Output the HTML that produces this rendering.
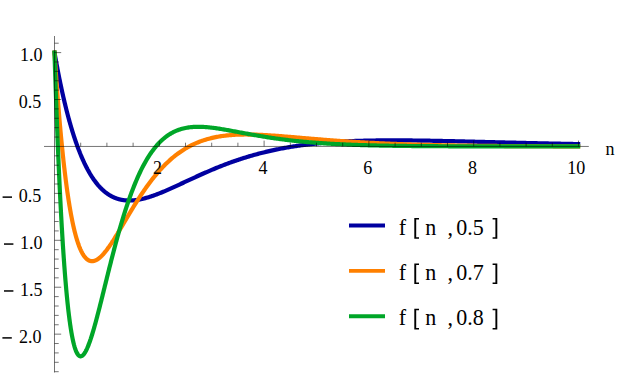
<!DOCTYPE html>
<html><head><meta charset="utf-8"><title>plot</title>
<style>
html,body{margin:0;padding:0;background:#fff;}
body{width:623px;height:376px;overflow:hidden;}
svg{display:block;}
text{font-family:"Liberation Serif",serif;font-size:18px;fill:#000;}
text.lg{font-size:22px;}
</style></head><body>
<svg width="623" height="376" viewBox="0 0 623 376">
<rect width="623" height="376" fill="#fff"/>
<g fill="none" stroke-width="4.2" stroke-linejoin="round" stroke-linecap="square">
<path stroke="#0000a0" d="M54.50,52.60 L54.70,53.72 L54.89,54.84 L55.09,55.95 L55.29,57.05 L55.48,58.15 L55.68,59.24 L55.88,60.33 L56.08,61.41 L56.27,62.48 L56.47,63.54 L56.67,64.60 L56.86,65.66 L57.06,66.70 L57.26,67.74 L57.45,68.78 L57.65,69.81 L57.85,70.83 L58.05,71.84 L58.24,72.85 L58.44,73.86 L58.64,74.86 L58.83,75.85 L59.03,76.84 L59.23,77.82 L59.42,78.79 L59.62,79.76 L59.82,80.72 L60.02,81.68 L60.21,82.63 L60.41,83.58 L60.61,84.52 L60.80,85.45 L61.00,86.38 L61.20,87.30 L61.39,88.22 L61.59,89.13 L61.79,90.04 L61.99,90.94 L62.18,91.83 L62.38,92.72 L62.58,93.61 L62.77,94.49 L62.97,95.36 L63.17,96.23 L63.36,97.09 L63.56,97.95 L63.76,98.80 L63.96,99.65 L64.15,100.49 L64.35,101.32 L64.55,102.16 L64.74,102.98 L64.94,103.80 L65.14,104.62 L65.33,105.43 L65.53,106.23 L65.73,107.03 L65.93,107.83 L66.12,108.62 L66.32,109.40 L66.52,110.19 L66.71,110.96 L66.91,111.73 L67.11,112.50 L67.30,113.26 L67.50,114.01 L67.70,114.76 L67.90,115.51 L68.09,116.25 L68.29,116.99 L68.49,117.72 L68.68,118.45 L68.88,119.17 L69.08,119.89 L69.27,120.60 L69.47,121.31 L69.67,122.02 L69.87,122.71 L70.06,123.41 L70.26,124.10 L70.46,124.79 L70.65,125.47 L70.85,126.14 L71.05,126.82 L71.24,127.48 L71.44,128.15 L71.64,128.81 L71.84,129.46 L72.03,130.11 L72.23,130.76 L72.43,131.40 L72.62,132.04 L72.82,132.67 L73.02,133.30 L73.21,133.93 L73.41,134.55 L73.61,135.16 L73.81,135.78 L74.00,136.39 L74.20,136.99 L74.40,137.59 L74.59,138.19 L74.79,138.78 L74.99,139.37 L75.18,139.95 L75.38,140.53 L75.58,141.11 L75.78,141.68 L75.97,142.25 L76.17,142.81 L76.37,143.37 L76.56,143.93 L76.76,144.48 L76.96,145.03 L77.15,145.57 L77.35,146.11 L77.55,146.65 L77.75,147.18 L77.94,147.71 L78.14,148.24 L78.34,148.76 L78.53,149.28 L78.73,149.79 L78.93,150.31 L79.12,150.81 L79.32,151.32 L79.52,151.82 L79.72,152.31 L79.91,152.81 L80.11,153.30 L80.31,153.78 L80.50,154.27 L80.70,154.75 L80.90,155.22 L81.09,155.69 L81.29,156.16 L81.49,156.63 L81.68,157.09 L81.88,157.55 L82.08,158.00 L82.28,158.45 L82.47,158.90 L82.67,159.35 L82.87,159.79 L83.06,160.23 L83.26,160.66 L83.46,161.09 L83.65,161.52 L83.85,161.95 L84.05,162.37 L84.25,162.79 L84.44,163.21 L84.64,163.62 L84.84,164.03 L85.03,164.43 L85.23,164.84 L85.43,165.24 L85.62,165.63 L85.82,166.03 L86.02,166.42 L86.22,166.81 L86.41,167.19 L86.61,167.57 L86.81,167.95 L87.00,168.33 L87.20,168.70 L87.40,169.07 L87.59,169.44 L87.79,169.80 L87.99,170.16 L88.19,170.52 L88.38,170.88 L88.58,171.23 L88.78,171.58 L88.97,171.93 L89.17,172.27 L89.37,172.61 L89.56,172.95 L89.76,173.29 L89.96,173.62 L90.16,173.95 L90.35,174.28 L90.55,174.60 L90.75,174.93 L90.94,175.24 L91.14,175.56 L91.34,175.88 L91.53,176.19 L91.73,176.50 L91.93,176.80 L92.13,177.11 L92.32,177.41 L92.52,177.71 L92.72,178.00 L92.91,178.29 L93.11,178.59 L93.31,178.87 L93.50,179.16 L93.70,179.44 L93.90,179.72 L94.10,180.00 L94.29,180.28 L94.49,180.55 L94.69,180.82 L94.88,181.09 L95.08,181.36 L95.28,181.62 L95.47,181.88 L95.67,182.14 L95.87,182.40 L96.07,182.65 L96.26,182.90 L96.46,183.15 L96.66,183.40 L96.85,183.65 L97.05,183.89 L97.25,184.13 L97.44,184.37 L97.64,184.60 L97.84,184.84 L98.04,185.07 L98.23,185.30 L98.43,185.53 L98.63,185.75 L98.82,185.97 L99.02,186.19 L99.22,186.41 L99.41,186.63 L99.61,186.84 L99.81,187.06 L100.01,187.27 L100.20,187.47 L100.40,187.68 L100.60,187.88 L100.79,188.08 L100.99,188.28 L101.19,188.48 L101.38,188.68 L101.58,188.87 L101.78,189.06 L101.98,189.25 L102.17,189.44 L102.37,189.63 L102.57,189.81 L102.76,189.99 L102.96,190.17 L103.16,190.35 L103.35,190.52 L103.55,190.70 L103.75,190.87 L103.95,191.04 L104.14,191.21 L104.34,191.38 L104.54,191.54 L104.73,191.70 L104.93,191.86 L105.13,192.02 L105.32,192.18 L105.52,192.34 L105.72,192.49 L105.92,192.64 L106.11,192.79 L106.31,192.94 L106.51,193.09 L106.70,193.23 L106.90,193.38 L107.10,193.52 L107.29,193.66 L107.49,193.79 L107.69,193.93 L107.88,194.07 L108.08,194.20 L108.28,194.33 L108.48,194.46 L108.67,194.59 L108.87,194.71 L109.07,194.84 L109.26,194.96 L109.46,195.08 L109.66,195.20 L109.85,195.32 L110.05,195.44 L110.25,195.55 L110.45,195.67 L110.64,195.78 L110.84,195.89 L111.04,196.00 L111.23,196.11 L111.43,196.21 L111.63,196.32 L111.82,196.42 L112.02,196.52 L112.22,196.62 L112.42,196.72 L112.61,196.82 L112.81,196.91 L113.01,197.01 L113.20,197.10 L113.40,197.19 L113.60,197.28 L113.79,197.37 L113.99,197.46 L114.19,197.54 L114.39,197.62 L114.58,197.71 L114.78,197.79 L114.98,197.87 L115.17,197.95 L115.37,198.03 L115.57,198.10 L115.76,198.18 L115.96,198.25 L116.16,198.32 L116.36,198.39 L116.55,198.46 L116.75,198.53 L116.95,198.60 L117.14,198.66 L117.34,198.73 L117.54,198.79 L117.73,198.85 L117.93,198.91 L118.13,198.97 L118.33,199.03 L118.52,199.09 L118.72,199.14 L118.92,199.20 L119.11,199.25 L119.31,199.30 L119.51,199.35 L119.70,199.40 L119.90,199.45 L120.10,199.50 L120.30,199.54 L120.49,199.59 L120.69,199.63 L120.89,199.67 L121.08,199.72 L121.28,199.76 L121.48,199.80 L121.67,199.83 L121.87,199.87 L122.07,199.91 L122.27,199.94 L122.46,199.98 L122.66,200.01 L122.86,200.04 L123.05,200.07 L123.25,200.10 L123.45,200.13 L123.64,200.16 L123.84,200.18 L124.04,200.21 L124.24,200.23 L124.43,200.26 L124.63,200.28 L124.83,200.30 L125.02,200.32 L125.22,200.34 L125.42,200.36 L125.61,200.37 L125.81,200.39 L126.01,200.41 L126.21,200.42 L126.40,200.43 L126.60,200.45 L126.80,200.46 L126.99,200.47 L127.19,200.48 L127.39,200.49 L127.58,200.50 L127.78,200.50 L127.98,200.51 L128.18,200.51 L128.37,200.52 L128.57,200.52 L128.77,200.52 L128.96,200.53 L129.16,200.53 L129.36,200.53 L129.55,200.53 L129.75,200.52 L129.95,200.52 L130.15,200.52 L130.34,200.51 L130.54,200.51 L130.74,200.50 L130.93,200.50 L131.13,200.49 L131.33,200.48 L131.52,200.47 L131.72,200.46 L131.92,200.45 L132.12,200.44 L132.31,200.43 L132.51,200.41 L132.71,200.40 L132.90,200.38 L133.10,200.37 L134.22,200.27 L135.33,200.14 L136.45,200.00 L137.56,199.83 L138.68,199.64 L139.79,199.43 L140.91,199.20 L142.02,198.96 L143.14,198.70 L144.25,198.42 L145.37,198.12 L146.48,197.81 L147.60,197.49 L148.72,197.15 L149.83,196.80 L150.95,196.44 L152.06,196.06 L153.18,195.67 L154.29,195.28 L155.41,194.87 L156.52,194.45 L157.64,194.03 L158.75,193.59 L159.87,193.15 L160.98,192.70 L162.10,192.24 L163.22,191.78 L164.33,191.31 L165.45,190.83 L166.56,190.35 L167.68,189.86 L168.79,189.37 L169.91,188.88 L171.02,188.38 L172.14,187.88 L173.25,187.37 L174.37,186.86 L175.48,186.35 L176.60,185.84 L177.71,185.33 L178.83,184.81 L179.95,184.29 L181.06,183.77 L182.18,183.25 L183.29,182.73 L184.41,182.21 L185.52,181.69 L186.64,181.17 L187.75,180.65 L188.87,180.14 L189.98,179.62 L191.10,179.10 L192.21,178.58 L193.33,178.07 L194.45,177.56 L195.56,177.04 L196.68,176.53 L197.79,176.03 L198.91,175.52 L200.02,175.02 L201.14,174.52 L202.25,174.02 L203.37,173.52 L204.48,173.03 L205.60,172.54 L206.71,172.05 L207.83,171.57 L208.95,171.09 L210.06,170.61 L211.18,170.13 L212.29,169.66 L213.41,169.20 L214.52,168.73 L215.64,168.27 L216.75,167.82 L217.87,167.36 L218.98,166.91 L220.10,166.47 L221.21,166.03 L222.33,165.59 L223.45,165.16 L224.56,164.73 L225.68,164.31 L226.79,163.88 L227.91,163.47 L229.02,163.06 L230.14,162.65 L231.25,162.24 L232.37,161.85 L233.48,161.45 L234.60,161.06 L235.71,160.67 L236.83,160.29 L237.94,159.91 L239.06,159.54 L240.18,159.17 L241.29,158.81 L242.41,158.45 L243.52,158.09 L244.64,157.74 L245.75,157.40 L246.87,157.05 L247.98,156.72 L249.10,156.38 L250.21,156.05 L251.33,155.73 L252.44,155.41 L253.56,155.09 L254.68,154.78 L255.79,154.47 L256.91,154.17 L258.02,153.87 L259.14,153.58 L260.25,153.29 L261.37,153.00 L262.48,152.72 L263.60,152.44 L264.71,152.17 L265.83,151.90 L266.94,151.63 L268.06,151.37 L269.18,151.11 L270.29,150.86 L271.41,150.61 L272.52,150.36 L273.64,150.12 L274.75,149.89 L275.87,149.65 L276.98,149.42 L278.10,149.20 L279.21,148.98 L280.33,148.76 L281.44,148.54 L282.56,148.33 L283.68,148.12 L284.79,147.92 L285.91,147.72 L287.02,147.53 L288.14,147.33 L289.25,147.14 L290.37,146.96 L291.48,146.78 L292.60,146.60 L293.71,146.42 L294.83,146.25 L295.94,146.08 L297.06,145.91 L298.17,145.75 L299.29,145.59 L300.41,145.44 L301.52,145.28 L302.64,145.13 L303.75,144.99 L304.87,144.84 L305.98,144.70 L307.10,144.57 L308.21,144.43 L309.33,144.30 L310.44,144.17 L311.56,144.04 L312.67,143.92 L313.79,143.80 L314.91,143.68 L316.02,143.57 L317.14,143.45 L318.25,143.34 L319.37,143.24 L320.48,143.13 L321.60,143.03 L322.71,142.93 L323.83,142.83 L324.94,142.74 L326.06,142.64 L327.17,142.55 L328.29,142.47 L329.41,142.38 L330.52,142.30 L331.64,142.22 L332.75,142.14 L333.87,142.06 L334.98,141.99 L336.10,141.91 L337.21,141.84 L338.33,141.77 L339.44,141.71 L340.56,141.64 L341.67,141.58 L342.79,141.52 L343.91,141.46 L345.02,141.40 L346.14,141.35 L347.25,141.30 L348.37,141.24 L349.48,141.20 L350.60,141.15 L351.71,141.10 L352.83,141.06 L353.94,141.01 L355.06,140.97 L356.17,140.93 L357.29,140.89 L358.41,140.86 L359.52,140.82 L360.64,140.79 L361.75,140.76 L362.87,140.73 L363.98,140.70 L365.10,140.67 L366.21,140.64 L367.33,140.62 L368.44,140.59 L369.56,140.57 L370.67,140.55 L371.79,140.53 L372.90,140.51 L374.02,140.49 L375.14,140.48 L376.25,140.46 L377.37,140.45 L378.48,140.43 L379.60,140.42 L380.71,140.41 L381.83,140.40 L382.94,140.39 L384.06,140.38 L385.17,140.38 L386.29,140.37 L387.40,140.37 L388.52,140.36 L389.64,140.36 L390.75,140.36 L391.87,140.36 L392.98,140.36 L394.10,140.36 L395.21,140.36 L396.33,140.36 L397.44,140.36 L398.56,140.37 L399.67,140.37 L400.79,140.38 L401.90,140.38 L403.02,140.39 L404.14,140.40 L405.25,140.40 L406.37,140.41 L407.48,140.42 L408.60,140.43 L409.71,140.44 L410.83,140.45 L411.94,140.47 L413.06,140.48 L414.17,140.49 L415.29,140.50 L416.40,140.52 L417.52,140.53 L418.64,140.55 L419.75,140.56 L420.87,140.58 L421.98,140.59 L423.10,140.61 L424.21,140.63 L425.33,140.65 L426.44,140.66 L427.56,140.68 L428.67,140.70 L429.79,140.72 L430.90,140.74 L432.02,140.76 L433.13,140.78 L434.25,140.80 L435.37,140.82 L436.48,140.84 L437.60,140.87 L438.71,140.89 L439.83,140.91 L440.94,140.93 L442.06,140.96 L443.17,140.98 L444.29,141.00 L445.40,141.03 L446.52,141.05 L447.63,141.07 L448.75,141.10 L449.87,141.12 L450.98,141.15 L452.10,141.17 L453.21,141.20 L454.33,141.22 L455.44,141.25 L456.56,141.27 L457.67,141.30 L458.79,141.33 L459.90,141.35 L461.02,141.38 L462.13,141.40 L463.25,141.43 L464.37,141.46 L465.48,141.48 L466.60,141.51 L467.71,141.54 L468.83,141.57 L469.94,141.59 L471.06,141.62 L472.17,141.65 L473.29,141.67 L474.40,141.70 L475.52,141.73 L476.63,141.76 L477.75,141.78 L478.87,141.81 L479.98,141.84 L481.10,141.87 L482.21,141.89 L483.33,141.92 L484.44,141.95 L485.56,141.98 L486.67,142.01 L487.79,142.03 L488.90,142.06 L490.02,142.09 L491.13,142.12 L492.25,142.14 L493.36,142.17 L494.48,142.20 L495.60,142.23 L496.71,142.26 L497.83,142.28 L498.94,142.31 L500.06,142.34 L501.17,142.37 L502.29,142.39 L503.40,142.42 L504.52,142.45 L505.63,142.48 L506.75,142.50 L507.86,142.53 L508.98,142.56 L510.10,142.59 L511.21,142.61 L512.33,142.64 L513.44,142.67 L514.56,142.69 L515.67,142.72 L516.79,142.75 L517.90,142.77 L519.02,142.80 L520.13,142.83 L521.25,142.85 L522.36,142.88 L523.48,142.91 L524.60,142.93 L525.71,142.96 L526.83,142.98 L527.94,143.01 L529.06,143.04 L530.17,143.06 L531.29,143.09 L532.40,143.11 L533.52,143.14 L534.63,143.16 L535.75,143.19 L536.86,143.21 L537.98,143.24 L539.10,143.26 L540.21,143.29 L541.33,143.31 L542.44,143.34 L543.56,143.36 L544.67,143.39 L545.79,143.41 L546.90,143.43 L548.02,143.46 L549.13,143.48 L550.25,143.51 L551.36,143.53 L552.48,143.55 L553.60,143.58 L554.71,143.60 L555.83,143.62 L556.94,143.65 L558.06,143.67 L559.17,143.69 L560.29,143.71 L561.40,143.74 L562.52,143.76 L563.63,143.78 L564.75,143.80 L565.86,143.83 L566.98,143.85 L568.09,143.87 L569.21,143.89 L570.33,143.91 L571.44,143.93 L572.56,143.96 L573.67,143.98 L574.79,144.00 L575.90,144.02 L577.02,144.04 L578.13,144.06"/>
<path stroke="#ff8000" d="M54.50,52.60 L54.70,55.62 L54.89,58.60 L55.09,61.55 L55.29,64.47 L55.48,67.35 L55.68,70.21 L55.88,73.03 L56.08,75.83 L56.27,78.59 L56.47,81.32 L56.67,84.03 L56.86,86.70 L57.06,89.34 L57.26,91.95 L57.45,94.54 L57.65,97.09 L57.85,99.62 L58.05,102.12 L58.24,104.59 L58.44,107.03 L58.64,109.44 L58.83,111.83 L59.03,114.19 L59.23,116.52 L59.42,118.83 L59.62,121.10 L59.82,123.36 L60.02,125.58 L60.21,127.78 L60.41,129.96 L60.61,132.11 L60.80,134.23 L61.00,136.33 L61.20,138.40 L61.39,140.45 L61.59,142.47 L61.79,144.47 L61.99,146.45 L62.18,148.40 L62.38,150.33 L62.58,152.24 L62.77,154.12 L62.97,155.98 L63.17,157.81 L63.36,159.62 L63.56,161.42 L63.76,163.18 L63.96,164.93 L64.15,166.65 L64.35,168.36 L64.55,170.04 L64.74,171.70 L64.94,173.34 L65.14,174.95 L65.33,176.55 L65.53,178.13 L65.73,179.68 L65.93,181.22 L66.12,182.73 L66.32,184.23 L66.52,185.71 L66.71,187.16 L66.91,188.60 L67.11,190.02 L67.30,191.42 L67.50,192.80 L67.70,194.16 L67.90,195.50 L68.09,196.82 L68.29,198.13 L68.49,199.42 L68.68,200.69 L68.88,201.94 L69.08,203.17 L69.27,204.39 L69.47,205.59 L69.67,206.77 L69.87,207.94 L70.06,209.09 L70.26,210.22 L70.46,211.34 L70.65,212.44 L70.85,213.52 L71.05,214.59 L71.24,215.64 L71.44,216.67 L71.64,217.69 L71.84,218.70 L72.03,219.69 L72.23,220.66 L72.43,221.62 L72.62,222.56 L72.82,223.49 L73.02,224.41 L73.21,225.31 L73.41,226.19 L73.61,227.06 L73.81,227.92 L74.00,228.76 L74.20,229.59 L74.40,230.41 L74.59,231.21 L74.79,232.00 L74.99,232.77 L75.18,233.54 L75.38,234.28 L75.58,235.02 L75.78,235.74 L75.97,236.45 L76.17,237.15 L76.37,237.84 L76.56,238.51 L76.76,239.17 L76.96,239.82 L77.15,240.45 L77.35,241.08 L77.55,241.69 L77.75,242.29 L77.94,242.88 L78.14,243.46 L78.34,244.02 L78.53,244.58 L78.73,245.12 L78.93,245.65 L79.12,246.18 L79.32,246.69 L79.52,247.19 L79.72,247.68 L79.91,248.16 L80.11,248.63 L80.31,249.08 L80.50,249.53 L80.70,249.97 L80.90,250.40 L81.09,250.82 L81.29,251.23 L81.49,251.63 L81.68,252.01 L81.88,252.39 L82.08,252.76 L82.28,253.13 L82.47,253.48 L82.67,253.82 L82.87,254.15 L83.06,254.48 L83.26,254.79 L83.46,255.10 L83.65,255.40 L83.85,255.69 L84.05,255.97 L84.25,256.24 L84.44,256.51 L84.64,256.76 L84.84,257.01 L85.03,257.25 L85.23,257.48 L85.43,257.71 L85.62,257.93 L85.82,258.13 L86.02,258.34 L86.22,258.53 L86.41,258.71 L86.61,258.89 L86.81,259.06 L87.00,259.23 L87.20,259.38 L87.40,259.53 L87.59,259.68 L87.79,259.81 L87.99,259.94 L88.19,260.06 L88.38,260.18 L88.58,260.29 L88.78,260.39 L88.97,260.48 L89.17,260.57 L89.37,260.66 L89.56,260.73 L89.76,260.80 L89.96,260.87 L90.16,260.92 L90.35,260.98 L90.55,261.02 L90.75,261.06 L90.94,261.10 L91.14,261.12 L91.34,261.15 L91.53,261.16 L91.73,261.17 L91.93,261.18 L92.13,261.18 L92.32,261.18 L92.52,261.17 L92.72,261.15 L92.91,261.13 L93.11,261.10 L93.31,261.07 L93.50,261.04 L93.70,261.00 L93.90,260.95 L94.10,260.90 L94.29,260.85 L94.49,260.79 L94.69,260.72 L94.88,260.65 L95.08,260.58 L95.28,260.50 L95.47,260.42 L95.67,260.33 L95.87,260.24 L96.07,260.14 L96.26,260.04 L96.46,259.94 L96.66,259.83 L96.85,259.72 L97.05,259.60 L97.25,259.48 L97.44,259.36 L97.64,259.23 L97.84,259.10 L98.04,258.96 L98.23,258.82 L98.43,258.68 L98.63,258.53 L98.82,258.38 L99.02,258.23 L99.22,258.07 L99.41,257.91 L99.61,257.75 L99.81,257.58 L100.01,257.41 L100.20,257.24 L100.40,257.06 L100.60,256.88 L100.79,256.70 L100.99,256.51 L101.19,256.32 L101.38,256.13 L101.58,255.93 L101.78,255.73 L101.98,255.53 L102.17,255.33 L102.37,255.12 L102.57,254.91 L102.76,254.70 L102.96,254.49 L103.16,254.27 L103.35,254.05 L103.55,253.83 L103.75,253.60 L103.95,253.37 L104.14,253.14 L104.34,252.91 L104.54,252.67 L104.73,252.44 L104.93,252.20 L105.13,251.96 L105.32,251.71 L105.52,251.47 L105.72,251.22 L105.92,250.97 L106.11,250.72 L106.31,250.46 L106.51,250.20 L106.70,249.95 L106.90,249.69 L107.10,249.42 L107.29,249.16 L107.49,248.89 L107.69,248.62 L107.88,248.35 L108.08,248.08 L108.28,247.81 L108.48,247.53 L108.67,247.26 L108.87,246.98 L109.07,246.70 L109.26,246.42 L109.46,246.14 L109.66,245.85 L109.85,245.57 L110.05,245.28 L110.25,244.99 L110.45,244.70 L110.64,244.41 L110.84,244.11 L111.04,243.82 L111.23,243.52 L111.43,243.23 L111.63,242.93 L111.82,242.63 L112.02,242.33 L112.22,242.03 L112.42,241.73 L112.61,241.42 L112.81,241.12 L113.01,240.81 L113.20,240.50 L113.40,240.20 L113.60,239.89 L113.79,239.58 L113.99,239.26 L114.19,238.95 L114.39,238.64 L114.58,238.33 L114.78,238.01 L114.98,237.70 L115.17,237.38 L115.37,237.06 L115.57,236.75 L115.76,236.43 L115.96,236.11 L116.16,235.79 L116.36,235.47 L116.55,235.15 L116.75,234.82 L116.95,234.50 L117.14,234.18 L117.34,233.85 L117.54,233.53 L117.73,233.21 L117.93,232.88 L118.13,232.55 L118.33,232.23 L118.52,231.90 L118.72,231.57 L118.92,231.25 L119.11,230.92 L119.31,230.59 L119.51,230.26 L119.70,229.93 L119.90,229.60 L120.10,229.27 L120.30,228.94 L120.49,228.61 L120.69,228.28 L120.89,227.95 L121.08,227.62 L121.28,227.29 L121.48,226.95 L121.67,226.62 L121.87,226.29 L122.07,225.96 L122.27,225.63 L122.46,225.29 L122.66,224.96 L122.86,224.63 L123.05,224.29 L123.25,223.96 L123.45,223.63 L123.64,223.30 L123.84,222.96 L124.04,222.63 L124.24,222.30 L124.43,221.96 L124.63,221.63 L124.83,221.30 L125.02,220.96 L125.22,220.63 L125.42,220.30 L125.61,219.97 L125.81,219.63 L126.01,219.30 L126.21,218.97 L126.40,218.64 L126.60,218.30 L126.80,217.97 L126.99,217.64 L127.19,217.31 L127.39,216.98 L127.58,216.64 L127.78,216.31 L127.98,215.98 L128.18,215.65 L128.37,215.32 L128.57,214.99 L128.77,214.66 L128.96,214.33 L129.16,214.00 L129.36,213.67 L129.55,213.35 L129.75,213.02 L129.95,212.69 L130.15,212.36 L130.34,212.03 L130.54,211.71 L130.74,211.38 L130.93,211.05 L131.13,210.73 L131.33,210.40 L131.52,210.08 L131.72,209.75 L131.92,209.43 L132.12,209.10 L132.31,208.78 L132.51,208.46 L132.71,208.14 L132.90,207.81 L133.10,207.49 L134.22,205.68 L135.33,203.88 L136.45,202.11 L137.56,200.35 L138.68,198.61 L139.79,196.89 L140.91,195.19 L142.02,193.52 L143.14,191.87 L144.25,190.24 L145.37,188.64 L146.48,187.07 L147.60,185.51 L148.72,183.99 L149.83,182.49 L150.95,181.02 L152.06,179.57 L153.18,178.15 L154.29,176.76 L155.41,175.40 L156.52,174.06 L157.64,172.75 L158.75,171.47 L159.87,170.21 L160.98,168.99 L162.10,167.79 L163.22,166.62 L164.33,165.47 L165.45,164.35 L166.56,163.26 L167.68,162.20 L168.79,161.16 L169.91,160.14 L171.02,159.16 L172.14,158.20 L173.25,157.26 L174.37,156.35 L175.48,155.47 L176.60,154.60 L177.71,153.77 L178.83,152.95 L179.95,152.16 L181.06,151.40 L182.18,150.65 L183.29,149.93 L184.41,149.23 L185.52,148.56 L186.64,147.90 L187.75,147.27 L188.87,146.65 L189.98,146.06 L191.10,145.48 L192.21,144.93 L193.33,144.39 L194.45,143.88 L195.56,143.38 L196.68,142.90 L197.79,142.44 L198.91,141.99 L200.02,141.56 L201.14,141.15 L202.25,140.75 L203.37,140.37 L204.48,140.01 L205.60,139.66 L206.71,139.33 L207.83,139.01 L208.95,138.70 L210.06,138.41 L211.18,138.13 L212.29,137.86 L213.41,137.61 L214.52,137.37 L215.64,137.14 L216.75,136.93 L217.87,136.72 L218.98,136.53 L220.10,136.34 L221.21,136.17 L222.33,136.01 L223.45,135.86 L224.56,135.72 L225.68,135.58 L226.79,135.46 L227.91,135.34 L229.02,135.24 L230.14,135.14 L231.25,135.05 L232.37,134.97 L233.48,134.90 L234.60,134.83 L235.71,134.77 L236.83,134.72 L237.94,134.67 L239.06,134.63 L240.18,134.60 L241.29,134.57 L242.41,134.55 L243.52,134.53 L244.64,134.52 L245.75,134.52 L246.87,134.52 L247.98,134.53 L249.10,134.54 L250.21,134.55 L251.33,134.57 L252.44,134.59 L253.56,134.62 L254.68,134.65 L255.79,134.68 L256.91,134.72 L258.02,134.77 L259.14,134.81 L260.25,134.86 L261.37,134.91 L262.48,134.96 L263.60,135.02 L264.71,135.08 L265.83,135.14 L266.94,135.21 L268.06,135.27 L269.18,135.34 L270.29,135.41 L271.41,135.49 L272.52,135.56 L273.64,135.64 L274.75,135.71 L275.87,135.79 L276.98,135.88 L278.10,135.96 L279.21,136.04 L280.33,136.13 L281.44,136.21 L282.56,136.30 L283.68,136.39 L284.79,136.48 L285.91,136.57 L287.02,136.66 L288.14,136.75 L289.25,136.84 L290.37,136.93 L291.48,137.02 L292.60,137.12 L293.71,137.21 L294.83,137.30 L295.94,137.40 L297.06,137.49 L298.17,137.59 L299.29,137.68 L300.41,137.78 L301.52,137.87 L302.64,137.97 L303.75,138.06 L304.87,138.15 L305.98,138.25 L307.10,138.34 L308.21,138.44 L309.33,138.53 L310.44,138.62 L311.56,138.72 L312.67,138.81 L313.79,138.90 L314.91,139.00 L316.02,139.09 L317.14,139.18 L318.25,139.27 L319.37,139.36 L320.48,139.45 L321.60,139.54 L322.71,139.63 L323.83,139.72 L324.94,139.80 L326.06,139.89 L327.17,139.98 L328.29,140.06 L329.41,140.15 L330.52,140.23 L331.64,140.32 L332.75,140.40 L333.87,140.48 L334.98,140.57 L336.10,140.65 L337.21,140.73 L338.33,140.81 L339.44,140.89 L340.56,140.97 L341.67,141.04 L342.79,141.12 L343.91,141.20 L345.02,141.27 L346.14,141.35 L347.25,141.42 L348.37,141.50 L349.48,141.57 L350.60,141.64 L351.71,141.71 L352.83,141.78 L353.94,141.85 L355.06,141.92 L356.17,141.99 L357.29,142.05 L358.41,142.12 L359.52,142.19 L360.64,142.25 L361.75,142.32 L362.87,142.38 L363.98,142.44 L365.10,142.50 L366.21,142.57 L367.33,142.63 L368.44,142.69 L369.56,142.74 L370.67,142.80 L371.79,142.86 L372.90,142.92 L374.02,142.97 L375.14,143.03 L376.25,143.08 L377.37,143.14 L378.48,143.19 L379.60,143.24 L380.71,143.29 L381.83,143.35 L382.94,143.40 L384.06,143.45 L385.17,143.49 L386.29,143.54 L387.40,143.59 L388.52,143.64 L389.64,143.68 L390.75,143.73 L391.87,143.78 L392.98,143.82 L394.10,143.86 L395.21,143.91 L396.33,143.95 L397.44,143.99 L398.56,144.03 L399.67,144.07 L400.79,144.11 L401.90,144.15 L403.02,144.19 L404.14,144.23 L405.25,144.27 L406.37,144.31 L407.48,144.34 L408.60,144.38 L409.71,144.41 L410.83,144.45 L411.94,144.48 L413.06,144.52 L414.17,144.55 L415.29,144.58 L416.40,144.62 L417.52,144.65 L418.64,144.68 L419.75,144.71 L420.87,144.74 L421.98,144.77 L423.10,144.80 L424.21,144.83 L425.33,144.86 L426.44,144.89 L427.56,144.91 L428.67,144.94 L429.79,144.97 L430.90,145.00 L432.02,145.02 L433.13,145.05 L434.25,145.07 L435.37,145.10 L436.48,145.12 L437.60,145.14 L438.71,145.17 L439.83,145.19 L440.94,145.21 L442.06,145.24 L443.17,145.26 L444.29,145.28 L445.40,145.30 L446.52,145.32 L447.63,145.34 L448.75,145.36 L449.87,145.38 L450.98,145.40 L452.10,145.42 L453.21,145.44 L454.33,145.46 L455.44,145.48 L456.56,145.50 L457.67,145.51 L458.79,145.53 L459.90,145.55 L461.02,145.56 L462.13,145.58 L463.25,145.60 L464.37,145.61 L465.48,145.63 L466.60,145.64 L467.71,145.66 L468.83,145.67 L469.94,145.69 L471.06,145.70 L472.17,145.72 L473.29,145.73 L474.40,145.74 L475.52,145.76 L476.63,145.77 L477.75,145.78 L478.87,145.80 L479.98,145.81 L481.10,145.82 L482.21,145.83 L483.33,145.84 L484.44,145.86 L485.56,145.87 L486.67,145.88 L487.79,145.89 L488.90,145.90 L490.02,145.91 L491.13,145.92 L492.25,145.93 L493.36,145.94 L494.48,145.95 L495.60,145.96 L496.71,145.97 L497.83,145.98 L498.94,145.99 L500.06,146.00 L501.17,146.01 L502.29,146.01 L503.40,146.02 L504.52,146.03 L505.63,146.04 L506.75,146.05 L507.86,146.05 L508.98,146.06 L510.10,146.07 L511.21,146.08 L512.33,146.08 L513.44,146.09 L514.56,146.10 L515.67,146.11 L516.79,146.11 L517.90,146.12 L519.02,146.13 L520.13,146.13 L521.25,146.14 L522.36,146.14 L523.48,146.15 L524.60,146.16 L525.71,146.16 L526.83,146.17 L527.94,146.17 L529.06,146.18 L530.17,146.18 L531.29,146.19 L532.40,146.19 L533.52,146.20 L534.63,146.20 L535.75,146.21 L536.86,146.21 L537.98,146.22 L539.10,146.22 L540.21,146.23 L541.33,146.23 L542.44,146.24 L543.56,146.24 L544.67,146.24 L545.79,146.25 L546.90,146.25 L548.02,146.26 L549.13,146.26 L550.25,146.26 L551.36,146.27 L552.48,146.27 L553.60,146.28 L554.71,146.28 L555.83,146.28 L556.94,146.29 L558.06,146.29 L559.17,146.29 L560.29,146.30 L561.40,146.30 L562.52,146.30 L563.63,146.30 L564.75,146.31 L565.86,146.31 L566.98,146.31 L568.09,146.32 L569.21,146.32 L570.33,146.32 L571.44,146.32 L572.56,146.33 L573.67,146.33 L574.79,146.33 L575.90,146.33 L577.02,146.34 L578.13,146.34"/>
<path stroke="#00a628" d="M54.50,52.60 L54.70,58.77 L54.89,64.84 L55.09,70.83 L55.29,76.72 L55.48,82.52 L55.68,88.24 L55.88,93.87 L56.08,99.41 L56.27,104.87 L56.47,110.25 L56.67,115.54 L56.86,120.75 L57.06,125.88 L57.26,130.92 L57.45,135.89 L57.65,140.78 L57.85,145.59 L58.05,150.33 L58.24,154.99 L58.44,159.57 L58.64,164.08 L58.83,168.52 L59.03,172.88 L59.23,177.17 L59.42,181.39 L59.62,185.54 L59.82,189.62 L60.02,193.63 L60.21,197.58 L60.41,201.46 L60.61,205.27 L60.80,209.01 L61.00,212.69 L61.20,216.31 L61.39,219.86 L61.59,223.36 L61.79,226.79 L61.99,230.15 L62.18,233.46 L62.38,236.71 L62.58,239.90 L62.77,243.03 L62.97,246.11 L63.17,249.12 L63.36,252.08 L63.56,254.99 L63.76,257.84 L63.96,260.64 L64.15,263.38 L64.35,266.07 L64.55,268.71 L64.74,271.29 L64.94,273.83 L65.14,276.31 L65.33,278.75 L65.53,281.13 L65.73,283.47 L65.93,285.76 L66.12,288.00 L66.32,290.19 L66.52,292.34 L66.71,294.44 L66.91,296.50 L67.11,298.51 L67.30,300.48 L67.50,302.41 L67.70,304.29 L67.90,306.13 L68.09,307.93 L68.29,309.68 L68.49,311.40 L68.68,313.07 L68.88,314.71 L69.08,316.30 L69.27,317.86 L69.47,319.38 L69.67,320.86 L69.87,322.30 L70.06,323.71 L70.26,325.08 L70.46,326.41 L70.65,327.71 L70.85,328.98 L71.05,330.20 L71.24,331.40 L71.44,332.56 L71.64,333.69 L71.84,334.78 L72.03,335.84 L72.23,336.88 L72.43,337.87 L72.62,338.84 L72.82,339.78 L73.02,340.69 L73.21,341.56 L73.41,342.41 L73.61,343.23 L73.81,344.02 L74.00,344.78 L74.20,345.51 L74.40,346.22 L74.59,346.90 L74.79,347.55 L74.99,348.17 L75.18,348.77 L75.38,349.34 L75.58,349.89 L75.78,350.41 L75.97,350.91 L76.17,351.39 L76.37,351.84 L76.56,352.26 L76.76,352.66 L76.96,353.04 L77.15,353.40 L77.35,353.74 L77.55,354.05 L77.75,354.34 L77.94,354.61 L78.14,354.86 L78.34,355.09 L78.53,355.29 L78.73,355.48 L78.93,355.65 L79.12,355.79 L79.32,355.92 L79.52,356.03 L79.72,356.12 L79.91,356.20 L80.11,356.25 L80.31,356.29 L80.50,356.30 L80.70,356.30 L80.90,356.29 L81.09,356.26 L81.29,356.21 L81.49,356.14 L81.68,356.06 L81.88,355.96 L82.08,355.85 L82.28,355.72 L82.47,355.58 L82.67,355.42 L82.87,355.25 L83.06,355.06 L83.26,354.86 L83.46,354.64 L83.65,354.41 L83.85,354.17 L84.05,353.92 L84.25,353.65 L84.44,353.37 L84.64,353.07 L84.84,352.77 L85.03,352.45 L85.23,352.12 L85.43,351.78 L85.62,351.42 L85.82,351.06 L86.02,350.68 L86.22,350.30 L86.41,349.90 L86.61,349.49 L86.81,349.07 L87.00,348.64 L87.20,348.21 L87.40,347.76 L87.59,347.30 L87.79,346.83 L87.99,346.36 L88.19,345.87 L88.38,345.38 L88.58,344.87 L88.78,344.36 L88.97,343.84 L89.17,343.31 L89.37,342.77 L89.56,342.23 L89.76,341.68 L89.96,341.12 L90.16,340.55 L90.35,339.98 L90.55,339.39 L90.75,338.81 L90.94,338.21 L91.14,337.61 L91.34,337.00 L91.53,336.38 L91.73,335.76 L91.93,335.13 L92.13,334.50 L92.32,333.86 L92.52,333.22 L92.72,332.56 L92.91,331.91 L93.11,331.25 L93.31,330.58 L93.50,329.91 L93.70,329.23 L93.90,328.55 L94.10,327.86 L94.29,327.17 L94.49,326.48 L94.69,325.78 L94.88,325.07 L95.08,324.36 L95.28,323.65 L95.47,322.93 L95.67,322.21 L95.87,321.49 L96.07,320.76 L96.26,320.03 L96.46,319.30 L96.66,318.56 L96.85,317.82 L97.05,317.08 L97.25,316.33 L97.44,315.58 L97.64,314.83 L97.84,314.07 L98.04,313.32 L98.23,312.56 L98.43,311.79 L98.63,311.03 L98.82,310.26 L99.02,309.49 L99.22,308.72 L99.41,307.95 L99.61,307.17 L99.81,306.40 L100.01,305.62 L100.20,304.84 L100.40,304.05 L100.60,303.27 L100.79,302.49 L100.99,301.70 L101.19,300.91 L101.38,300.13 L101.58,299.34 L101.78,298.54 L101.98,297.75 L102.17,296.96 L102.37,296.17 L102.57,295.37 L102.76,294.58 L102.96,293.78 L103.16,292.99 L103.35,292.19 L103.55,291.39 L103.75,290.60 L103.95,289.80 L104.14,289.00 L104.34,288.20 L104.54,287.41 L104.73,286.61 L104.93,285.81 L105.13,285.01 L105.32,284.21 L105.52,283.42 L105.72,282.62 L105.92,281.82 L106.11,281.02 L106.31,280.23 L106.51,279.43 L106.70,278.64 L106.90,277.84 L107.10,277.05 L107.29,276.25 L107.49,275.46 L107.69,274.67 L107.88,273.87 L108.08,273.08 L108.28,272.29 L108.48,271.50 L108.67,270.71 L108.87,269.93 L109.07,269.14 L109.26,268.35 L109.46,267.57 L109.66,266.79 L109.85,266.00 L110.05,265.22 L110.25,264.44 L110.45,263.67 L110.64,262.89 L110.84,262.11 L111.04,261.34 L111.23,260.57 L111.43,259.79 L111.63,259.02 L111.82,258.26 L112.02,257.49 L112.22,256.72 L112.42,255.96 L112.61,255.20 L112.81,254.44 L113.01,253.68 L113.20,252.92 L113.40,252.17 L113.60,251.41 L113.79,250.66 L113.99,249.91 L114.19,249.16 L114.39,248.42 L114.58,247.67 L114.78,246.93 L114.98,246.19 L115.17,245.45 L115.37,244.72 L115.57,243.98 L115.76,243.25 L115.96,242.52 L116.16,241.79 L116.36,241.07 L116.55,240.34 L116.75,239.62 L116.95,238.90 L117.14,238.18 L117.34,237.47 L117.54,236.76 L117.73,236.04 L117.93,235.34 L118.13,234.63 L118.33,233.93 L118.52,233.23 L118.72,232.53 L118.92,231.83 L119.11,231.13 L119.31,230.44 L119.51,229.75 L119.70,229.07 L119.90,228.38 L120.10,227.70 L120.30,227.02 L120.49,226.34 L120.69,225.67 L120.89,224.99 L121.08,224.32 L121.28,223.66 L121.48,222.99 L121.67,222.33 L121.87,221.67 L122.07,221.01 L122.27,220.36 L122.46,219.70 L122.66,219.05 L122.86,218.41 L123.05,217.76 L123.25,217.12 L123.45,216.48 L123.64,215.84 L123.84,215.21 L124.04,214.58 L124.24,213.95 L124.43,213.32 L124.63,212.70 L124.83,212.08 L125.02,211.46 L125.22,210.84 L125.42,210.23 L125.61,209.62 L125.81,209.01 L126.01,208.41 L126.21,207.80 L126.40,207.20 L126.60,206.61 L126.80,206.01 L126.99,205.42 L127.19,204.83 L127.39,204.25 L127.58,203.66 L127.78,203.08 L127.98,202.50 L128.18,201.93 L128.37,201.35 L128.57,200.78 L128.77,200.22 L128.96,199.65 L129.16,199.09 L129.36,198.53 L129.55,197.97 L129.75,197.42 L129.95,196.87 L130.15,196.32 L130.34,195.78 L130.54,195.23 L130.74,194.69 L130.93,194.15 L131.13,193.62 L131.33,193.09 L131.52,192.56 L131.72,192.03 L131.92,191.51 L132.12,190.99 L132.31,190.47 L132.51,189.95 L132.71,189.44 L132.90,188.93 L133.10,188.42 L134.22,185.60 L135.33,182.86 L136.45,180.21 L137.56,177.64 L138.68,175.15 L139.79,172.75 L140.91,170.43 L142.02,168.19 L143.14,166.02 L144.25,163.94 L145.37,161.93 L146.48,160.00 L147.60,158.14 L148.72,156.35 L149.83,154.64 L150.95,152.99 L152.06,151.41 L153.18,149.90 L154.29,148.45 L155.41,147.06 L156.52,145.74 L157.64,144.47 L158.75,143.27 L159.87,142.12 L160.98,141.02 L162.10,139.98 L163.22,138.99 L164.33,138.06 L165.45,137.17 L166.56,136.33 L167.68,135.53 L168.79,134.78 L169.91,134.07 L171.02,133.41 L172.14,132.78 L173.25,132.20 L174.37,131.65 L175.48,131.14 L176.60,130.66 L177.71,130.22 L178.83,129.81 L179.95,129.43 L181.06,129.09 L182.18,128.77 L183.29,128.48 L184.41,128.22 L185.52,127.98 L186.64,127.77 L187.75,127.58 L188.87,127.41 L189.98,127.27 L191.10,127.15 L192.21,127.04 L193.33,126.96 L194.45,126.90 L195.56,126.85 L196.68,126.82 L197.79,126.80 L198.91,126.80 L200.02,126.82 L201.14,126.85 L202.25,126.89 L203.37,126.94 L204.48,127.01 L205.60,127.09 L206.71,127.17 L207.83,127.27 L208.95,127.38 L210.06,127.49 L211.18,127.62 L212.29,127.75 L213.41,127.89 L214.52,128.04 L215.64,128.19 L216.75,128.35 L217.87,128.51 L218.98,128.68 L220.10,128.85 L221.21,129.03 L222.33,129.21 L223.45,129.40 L224.56,129.59 L225.68,129.78 L226.79,129.98 L227.91,130.17 L229.02,130.37 L230.14,130.58 L231.25,130.78 L232.37,130.98 L233.48,131.19 L234.60,131.40 L235.71,131.60 L236.83,131.81 L237.94,132.02 L239.06,132.23 L240.18,132.44 L241.29,132.65 L242.41,132.86 L243.52,133.06 L244.64,133.27 L245.75,133.48 L246.87,133.68 L247.98,133.89 L249.10,134.09 L250.21,134.29 L251.33,134.50 L252.44,134.70 L253.56,134.90 L254.68,135.09 L255.79,135.29 L256.91,135.48 L258.02,135.67 L259.14,135.86 L260.25,136.05 L261.37,136.24 L262.48,136.43 L263.60,136.61 L264.71,136.79 L265.83,136.97 L266.94,137.14 L268.06,137.32 L269.18,137.49 L270.29,137.66 L271.41,137.83 L272.52,138.00 L273.64,138.16 L274.75,138.32 L275.87,138.48 L276.98,138.64 L278.10,138.79 L279.21,138.94 L280.33,139.09 L281.44,139.24 L282.56,139.39 L283.68,139.53 L284.79,139.67 L285.91,139.81 L287.02,139.95 L288.14,140.08 L289.25,140.22 L290.37,140.35 L291.48,140.47 L292.60,140.60 L293.71,140.72 L294.83,140.85 L295.94,140.97 L297.06,141.08 L298.17,141.20 L299.29,141.31 L300.41,141.42 L301.52,141.53 L302.64,141.64 L303.75,141.75 L304.87,141.85 L305.98,141.95 L307.10,142.05 L308.21,142.15 L309.33,142.24 L310.44,142.34 L311.56,142.43 L312.67,142.52 L313.79,142.61 L314.91,142.69 L316.02,142.78 L317.14,142.86 L318.25,142.95 L319.37,143.03 L320.48,143.10 L321.60,143.18 L322.71,143.26 L323.83,143.33 L324.94,143.40 L326.06,143.47 L327.17,143.54 L328.29,143.61 L329.41,143.68 L330.52,143.74 L331.64,143.81 L332.75,143.87 L333.87,143.93 L334.98,143.99 L336.10,144.05 L337.21,144.10 L338.33,144.16 L339.44,144.22 L340.56,144.27 L341.67,144.32 L342.79,144.37 L343.91,144.42 L345.02,144.47 L346.14,144.52 L347.25,144.57 L348.37,144.61 L349.48,144.66 L350.60,144.70 L351.71,144.74 L352.83,144.78 L353.94,144.83 L355.06,144.87 L356.17,144.90 L357.29,144.94 L358.41,144.98 L359.52,145.02 L360.64,145.05 L361.75,145.09 L362.87,145.12 L363.98,145.15 L365.10,145.19 L366.21,145.22 L367.33,145.25 L368.44,145.28 L369.56,145.31 L370.67,145.34 L371.79,145.36 L372.90,145.39 L374.02,145.42 L375.14,145.45 L376.25,145.47 L377.37,145.50 L378.48,145.52 L379.60,145.54 L380.71,145.57 L381.83,145.59 L382.94,145.61 L384.06,145.63 L385.17,145.65 L386.29,145.67 L387.40,145.69 L388.52,145.71 L389.64,145.73 L390.75,145.75 L391.87,145.77 L392.98,145.79 L394.10,145.80 L395.21,145.82 L396.33,145.84 L397.44,145.85 L398.56,145.87 L399.67,145.88 L400.79,145.90 L401.90,145.91 L403.02,145.93 L404.14,145.94 L405.25,145.95 L406.37,145.97 L407.48,145.98 L408.60,145.99 L409.71,146.00 L410.83,146.02 L411.94,146.03 L413.06,146.04 L414.17,146.05 L415.29,146.06 L416.40,146.07 L417.52,146.08 L418.64,146.09 L419.75,146.10 L420.87,146.11 L421.98,146.12 L423.10,146.13 L424.21,146.14 L425.33,146.14 L426.44,146.15 L427.56,146.16 L428.67,146.17 L429.79,146.18 L430.90,146.18 L432.02,146.19 L433.13,146.20 L434.25,146.20 L435.37,146.21 L436.48,146.22 L437.60,146.22 L438.71,146.23 L439.83,146.24 L440.94,146.24 L442.06,146.25 L443.17,146.25 L444.29,146.26 L445.40,146.26 L446.52,146.27 L447.63,146.27 L448.75,146.28 L449.87,146.28 L450.98,146.29 L452.10,146.29 L453.21,146.30 L454.33,146.30 L455.44,146.30 L456.56,146.31 L457.67,146.31 L458.79,146.32 L459.90,146.32 L461.02,146.32 L462.13,146.33 L463.25,146.33 L464.37,146.33 L465.48,146.34 L466.60,146.34 L467.71,146.34 L468.83,146.35 L469.94,146.35 L471.06,146.35 L472.17,146.35 L473.29,146.36 L474.40,146.36 L475.52,146.36 L476.63,146.36 L477.75,146.37 L478.87,146.37 L479.98,146.37 L481.10,146.37 L482.21,146.38 L483.33,146.38 L484.44,146.38 L485.56,146.38 L486.67,146.38 L487.79,146.39 L488.90,146.39 L490.02,146.39 L491.13,146.39 L492.25,146.39 L493.36,146.39 L494.48,146.40 L495.60,146.40 L496.71,146.40 L497.83,146.40 L498.94,146.40 L500.06,146.40 L501.17,146.40 L502.29,146.41 L503.40,146.41 L504.52,146.41 L505.63,146.41 L506.75,146.41 L507.86,146.41 L508.98,146.41 L510.10,146.41 L511.21,146.41 L512.33,146.42 L513.44,146.42 L514.56,146.42 L515.67,146.42 L516.79,146.42 L517.90,146.42 L519.02,146.42 L520.13,146.42 L521.25,146.42 L522.36,146.42 L523.48,146.42 L524.60,146.42 L525.71,146.43 L526.83,146.43 L527.94,146.43 L529.06,146.43 L530.17,146.43 L531.29,146.43 L532.40,146.43 L533.52,146.43 L534.63,146.43 L535.75,146.43 L536.86,146.43 L537.98,146.43 L539.10,146.43 L540.21,146.43 L541.33,146.43 L542.44,146.43 L543.56,146.43 L544.67,146.44 L545.79,146.44 L546.90,146.44 L548.02,146.44 L549.13,146.44 L550.25,146.44 L551.36,146.44 L552.48,146.44 L553.60,146.44 L554.71,146.44 L555.83,146.44 L556.94,146.44 L558.06,146.44 L559.17,146.44 L560.29,146.44 L561.40,146.44 L562.52,146.44 L563.63,146.44 L564.75,146.44 L565.86,146.44 L566.98,146.44 L568.09,146.44 L569.21,146.44 L570.33,146.44 L571.44,146.44 L572.56,146.44 L573.67,146.44 L574.79,146.44 L575.90,146.44 L577.02,146.44 L578.13,146.44"/>
</g>
<g stroke="#000" stroke-width="0.55" fill="none">
<path d="M54.5,36V372.5M44,146.45H588.8"/>
<path d="M54.5,371.69h4.2M54.5,362.30h4.2M54.5,352.92h4.2M54.5,343.53h4.2M54.5,334.15h6.7M54.5,324.76h4.2M54.5,315.38h4.2M54.5,306.00h4.2M54.5,296.61h4.2M54.5,287.22h6.7M54.5,277.84h4.2M54.5,268.45h4.2M54.5,259.07h4.2M54.5,249.69h4.2M54.5,240.30h6.7M54.5,230.91h4.2M54.5,221.53h4.2M54.5,212.14h4.2M54.5,202.76h4.2M54.5,193.38h6.7M54.5,183.99h4.2M54.5,174.60h4.2M54.5,165.22h4.2M54.5,155.83h4.2M54.5,137.06h4.2M54.5,127.68h4.2M54.5,118.29h4.2M54.5,108.91h4.2M54.5,99.52h6.7M54.5,90.14h4.2M54.5,80.75h4.2M54.5,71.37h4.2M54.5,61.98h4.2M54.5,52.60h6.7M54.5,43.21h4.2M80.70,146.4v-3.7M106.90,146.4v-3.7M133.10,146.4v-3.7M159.30,146.4v-5.8M185.50,146.4v-3.7M211.70,146.4v-3.7M237.90,146.4v-3.7M264.10,146.4v-5.8M290.30,146.4v-3.7M316.50,146.4v-3.7M342.70,146.4v-3.7M368.90,146.4v-5.8M395.10,146.4v-3.7M421.30,146.4v-3.7M447.50,146.4v-3.7M473.70,146.4v-5.8M499.90,146.4v-3.7M526.10,146.4v-3.7M552.30,146.4v-3.7M578.50,146.4v-5.8"/>
</g>
<text transform="translate(19.90,61.20) scale(1.002)">1.0</text><text transform="translate(18.80,108.12) scale(1.002)">0.5</text><text transform="translate(18.80,201.97) scale(1.002)">0.5</text><path d="M2.60,197.12h9.4" stroke="#000" stroke-width="1.5" fill="none"/><text transform="translate(19.90,248.90) scale(1.002)">1.0</text><path d="M4.00,244.05h9.4" stroke="#000" stroke-width="1.5" fill="none"/><text transform="translate(19.90,295.82) scale(1.002)">1.5</text><path d="M4.00,290.97h9.4" stroke="#000" stroke-width="1.5" fill="none"/><text transform="translate(19.00,342.75) scale(1.002)">2.0</text><path d="M2.40,337.90h9.4" stroke="#000" stroke-width="1.5" fill="none"/>
<text transform="translate(157.60,173.55) scale(1.002)" text-anchor="middle">2</text><text transform="translate(263.00,173.55) scale(1.002)" text-anchor="middle">4</text><text transform="translate(367.80,173.55) scale(1.002)" text-anchor="middle">6</text><text transform="translate(472.60,173.55) scale(1.002)" text-anchor="middle">8</text><text transform="translate(576.30,173.55) scale(1.002)" text-anchor="middle">10</text>
<text transform="translate(605.6,155.0) scale(1.002)">n</text>
<path d="M349,225.55H385" stroke="#0000a0" stroke-width="3.9" fill="none"/><text class="lg" transform="translate(398.8,234.50) scale(1,1.06)">f</text><text class="lg" transform="translate(425.2,234.50) scale(1,1.06)">n</text><text class="lg" transform="translate(447.4,234.50) scale(1,1.06)">,</text><text class="lg" transform="translate(456.2,234.50) scale(1,1.06)">0.5</text><path transform="translate(0,0.00)" fill="#000" d="M414.3,218.1H419V219.6H416.2V237.2H419V238.7H414.3ZM497.3,218.1H492.6V219.6H495.4V237.2H492.6V238.7H497.3Z"/><path d="M349,270.92H385" stroke="#ff8000" stroke-width="3.9" fill="none"/><text class="lg" transform="translate(398.8,279.87) scale(1,1.06)">f</text><text class="lg" transform="translate(425.2,279.87) scale(1,1.06)">n</text><text class="lg" transform="translate(447.4,279.87) scale(1,1.06)">,</text><text class="lg" transform="translate(456.2,279.87) scale(1,1.06)">0.7</text><path transform="translate(0,45.37)" fill="#000" d="M414.3,218.1H419V219.6H416.2V237.2H419V238.7H414.3ZM497.3,218.1H492.6V219.6H495.4V237.2H492.6V238.7H497.3Z"/><path d="M349,316.29H385" stroke="#00a628" stroke-width="3.9" fill="none"/><text class="lg" transform="translate(398.8,325.24) scale(1,1.06)">f</text><text class="lg" transform="translate(425.2,325.24) scale(1,1.06)">n</text><text class="lg" transform="translate(447.4,325.24) scale(1,1.06)">,</text><text class="lg" transform="translate(456.2,325.24) scale(1,1.06)">0.8</text><path transform="translate(0,90.74)" fill="#000" d="M414.3,218.1H419V219.6H416.2V237.2H419V238.7H414.3ZM497.3,218.1H492.6V219.6H495.4V237.2H492.6V238.7H497.3Z"/>
</svg>
</body></html>
